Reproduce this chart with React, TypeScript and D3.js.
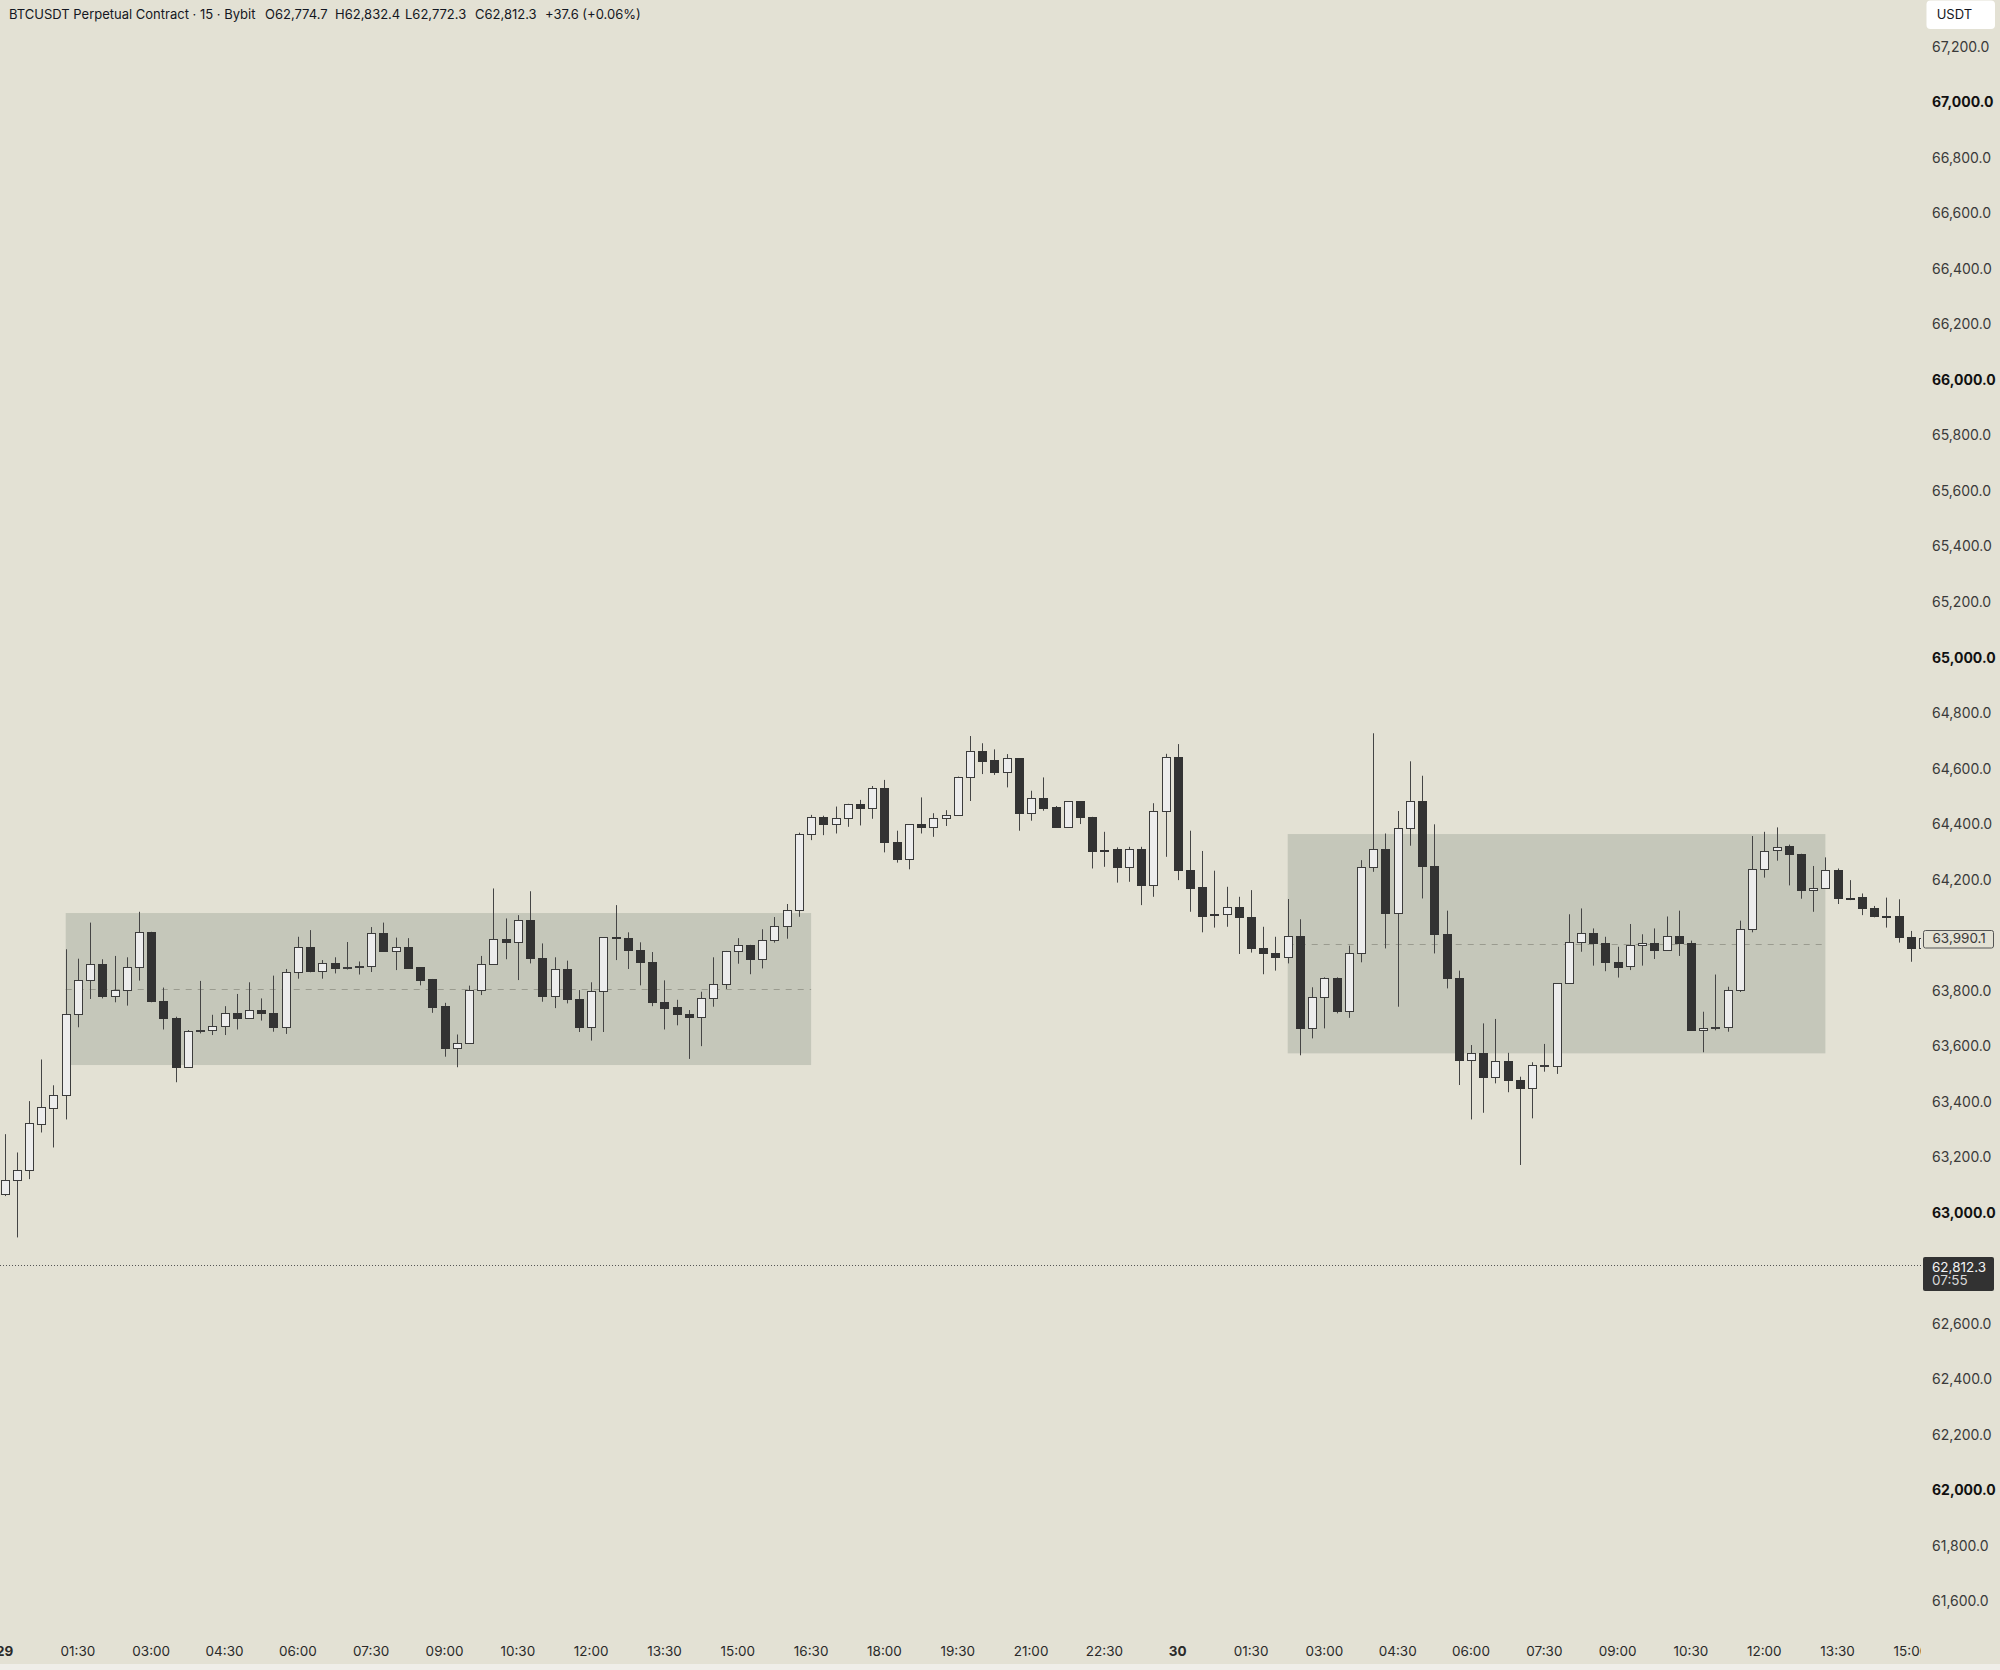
import React from "react";
import * as d3 from "d3";

// ---- Data (BTCUSDT 15m) ----
const opens = [63067,63117,63154,63321,63379,63423,63716,63837,63896,63782,63802,63884,64010,63764,63701,63524,63655,63657,63672,63720,63700,63732,63720,63669,63868,63958,63872,63898,63883,63887,63887,64009,63941,63958,63884,63842,63744,63594,63610,63801,63895,63985,63976,64054,63919,63780,63879,63770,63669,63797,63993,63988,63946,63903,63759,63740,63716,63704,63775,63825,63941,63965,63914,63981,64031,64090,64363,64427,64401,64420,64473,64459,64531,64335,64273,64399,64389,64421,64431,64568,64664,64629,64587,64637,64440,64493,64462,64389,64482,64426,64308,64310,64245,64310,64179,64446,64641,64234,64172,64076,64075,64101,64066,63952,63934,63922,63997,63664,63778,63844,63727,63934,64246,64309,64078,64387,64482,64250,64005,63844,63551,63576,63490,63548,63478,63449,63532,63528,63826,63976,64009,63973,63902,63887,63964,63973,63945,63997,63973,63657,63664,63669,63801,64023,64238,64305,64321,64293,64163,64171,64234,64135,64137,64099,64069,64067,63993,63953];
const highs = [63283,63217,63402,63552,63459,63949,63915,64045,63913,63925,63920,64084,64012,63811,63706,63658,63835,63713,63744,63788,63830,63772,63854,63878,63994,64018,63910,63920,63975,63905,64029,64045,63991,63989,63884,63842,63756,63642,63818,63925,64168,64060,64072,64158,63970,63920,63908,63802,63830,63993,64108,64010,63974,63939,63837,63767,63730,63796,63920,63943,63989,63965,64021,64065,64112,64369,64433,64430,64463,64473,64487,64537,64559,64376,64399,64496,64439,64450,64571,64717,64691,64669,64652,64637,64520,64568,64465,64482,64482,64426,64372,64316,64318,64318,64475,64653,64688,64376,64303,64232,64174,64138,64162,64030,63994,64130,64057,63812,63848,63848,63962,64270,64727,64366,64447,64626,64574,64399,64088,63872,63604,63682,63698,63576,63490,63542,63608,63826,64075,64096,64024,63994,63958,64040,64003,64024,64067,64088,63980,63724,63858,63814,64052,64357,64372,64388,64326,64293,64249,64280,64240,64198,64150,64105,64135,64129,64015,63995];
const lows = [63060,62911,63121,63289,63235,63336,63668,63770,63772,63758,63746,63836,63758,63660,63470,63524,63646,63640,63640,63660,63700,63692,63652,63644,63843,63866,63843,63862,63876,63858,63867,63943,63874,63883,63819,63720,63562,63524,63610,63784,63895,63913,63838,63898,63760,63737,63754,63651,63620,63651,63910,63878,63819,63744,63660,63675,63554,63600,63742,63806,63897,63859,63880,63973,63987,64066,64342,64360,64366,64390,64395,64419,64298,64261,64237,64366,64354,64393,64431,64483,64580,64577,64532,64376,64412,64448,64389,64389,64400,64240,64246,64189,64192,64108,64138,64282,64198,64084,64010,64027,64030,63932,63937,63859,63872,63898,63567,63628,63664,63718,63702,63902,64228,63952,63742,64322,64132,63934,63808,63460,63336,63360,63466,63434,63172,63340,63508,63500,63825,63940,63890,63870,63847,63874,63890,63914,63945,63925,63657,63578,63657,63652,63795,64010,64207,64268,64179,64131,64084,64171,64112,64126,64072,64064,64027,63973,63904,63940];
const closes = [63117,63154,63322,63381,63423,63716,63837,63896,63782,63802,63884,64010,63761,63700,63524,63654,63657,63674,63720,63700,63732,63719,63669,63868,63958,63872,63898,63883,63884,63889,64009,63943,63957,63883,63839,63742,63594,63610,63802,63895,63985,63976,64054,63917,63780,63879,63770,63669,63797,63993,63992,63945,63902,63758,63738,63716,63704,63775,63825,63943,63965,63914,63981,64031,64089,64363,64427,64401,64423,64473,64459,64531,64334,64273,64399,64389,64422,64434,64571,64664,64627,64587,64637,64440,64493,64459,64389,64482,64425,64303,64305,64245,64310,64179,64446,64641,64233,64171,64070,64075,64102,64066,63952,63934,63922,63997,63664,63778,63844,63727,63934,64246,64309,64078,64387,64482,64250,64005,63844,63550,63575,63490,63548,63478,63449,63532,63533,63826,63976,64009,63973,63902,63886,63965,63973,63945,63997,63973,63657,63664,63669,63801,64023,64238,64304,64318,64292,64162,64171,64234,64132,64133,64099,64070,64068,63993,63953,63990.1];

const xTickLabels = ["29","01:30","03:00","04:30","06:00","07:30","09:00","10:30","12:00","13:30","15:00","16:30","18:00","19:30","21:00","22:30","30","01:30","03:00","04:30","06:00","07:30","09:00","10:30","12:00","13:30","15:00"];
const xTickBold = ["29","30"];
const barsPerTick = 6;

const boxStart = [5, 105];
const boxEnd = [66, 149];
const boxTop = [64079.5, 64364];
const boxBottom = [63532, 63574];

const header = "BTCUSDT Perpetual Contract · 15 · Bybit";
const ohlcLabels = ["O62,774.7", "H62,832.4", "L62,772.3", "C62,812.3", "+37.6 (+0.06%)"];
const currentPrice = 62812.3;
const countdown = "07:55";
const lastPrice = 63990.1;

// ---- Layout ----
const W = 2000, H = 1670;
const plotRight = 1921;
const BG = "#e3e1d4";
const BOX = "#c5c7ba";
const FONT = "Inter, Roboto, 'Noto Sans', sans-serif";

export default function App() {
  const x = d3.scaleLinear().domain([0, 1]).range([4.6, 4.6 + 12.22]);
  const y = d3.scaleLinear().domain([61600, 67200]).range([1601.4, 46.7]);
  const fmt = d3.format(",.1f");
  const n = opens.length;
  const headerX = [265, 335, 405, 475, 545];
  // ticks hidden behind the price labels are not drawn
  const yTicks = d3.range(61600, 67200.1, 200).filter(
    (v) => Math.abs(y(v) - y(lastPrice)) > 14 && Math.abs(y(v) - 1274) > 22
  );

  return (
    <svg width={W} height={H} style={{ position: "absolute", left: 0, top: 0, display: "block" }} fontFamily={FONT}>
      <defs>
        <clipPath id="plot"><rect x={0} y={0} width={plotRight} height={1664} /></clipPath>
      </defs>
      <rect x={0} y={0} width={W} height={H} fill={BG} />
      <rect x={0} y={1664} width={W} height={6} fill="#efeee9" />

      <g clipPath="url(#plot)">
        {boxStart.map((s, k) => {
          const x0 = x(s), x1 = x(boxEnd[k]);
          const y0 = y(boxTop[k]), y1 = y(boxBottom[k]);
          const mid = y((boxTop[k] + boxBottom[k]) / 2);
          return (
            <g key={"b" + k}>
              <rect x={x0} y={y0} width={x1 - x0} height={y1 - y0} fill={BOX} />
              <line x1={x0} x2={x1} y1={Math.round(mid) + 0.5} y2={Math.round(mid) + 0.5} stroke="#9a9b8f" strokeWidth={1} strokeDasharray="6 6" />
            </g>
          );
        })}

        <line x1={0} x2={plotRight} y1={Math.round(y(currentPrice)) + 0.5} y2={Math.round(y(currentPrice)) + 0.5} stroke="#555" strokeWidth={1} strokeDasharray="1 2" />

        {d3.range(n).map((i) => {
          const o = opens[i], c = closes[i], h = highs[i], l = lows[i];
          const cx = Math.round(x(i));
          const up = c >= o;
          const top = y(Math.max(o, c)), bot = y(Math.min(o, c));
          const ry = Math.round(top);
          const rh = Math.max(1, Math.round(bot) - ry);
          return (
            <g key={i}>
              <line x1={cx + 0.5} x2={cx + 0.5} y1={y(h)} y2={y(l)} stroke="#454545" strokeWidth={1} />
              <rect x={cx - 4 + 0.5} y={ry + 0.5} width={8} height={rh} fill={up ? "#ededed" : "#333333"} stroke={up ? "#3c3c3c" : "#333333"} strokeWidth={1} />
            </g>
          );
        })}

        {xTickLabels.map((t, k) => (
          <text key={"x" + k} x={x(k * barsPerTick)} y={1655.5} textAnchor="middle" fontSize={13.5}
            fontWeight={xTickBold.includes(t) && (k === 0 || k === 16) ? 700 : 400} fill="#2a2a2a">{t}</text>
        ))}
      </g>

      {yTicks.map((v) => (
        <text key={"y" + v} x={1932} y={y(v)} dy="0.36em" fontSize={14}
          fontWeight={v % 1000 === 0 ? 700 : 400} fill={v % 1000 === 0 ? "#111" : "#3a3a3a"}>{fmt(v)}</text>
      ))}

      {/* last price label */}
      <rect x={1923.5} y={930.5} width={70} height={17.5} rx={2} fill={BG} stroke="#555" strokeWidth={1} />
      <text x={1932.5} y={y(lastPrice)} dy="0.36em" fontSize={13.5} fill="#3a3a3a">{fmt(lastPrice)}</text>

      {/* current price label */}
      <rect x={1923} y={1257} width={71} height={34} rx={2} fill="#323232" />
      <text x={1932} y={1266.8} dy="0.36em" fontSize={13.5} fill="#f2f2f2">{fmt(currentPrice)}</text>
      <text x={1932} y={1280.5} dy="0.36em" fontSize={13.5} fill="#d8d8d8">{countdown}</text>

      {/* currency box */}
      <rect x={1926.5} y={0.5} width={68.5} height={28.5} rx={4} fill="#ffffff" />
      <text x={1936.7} y={19.3} fontSize={13} fill="#131722">USDT</text>

      {/* header */}
      <text x={9} y={19} fontSize={13} fill="#131722">{header}</text>
      {ohlcLabels.map((t, k) => (
        <text key={"h" + k} x={headerX[k]} y={19} fontSize={13} fill="#131722">{t}</text>
      ))}
    </svg>
  );
}
